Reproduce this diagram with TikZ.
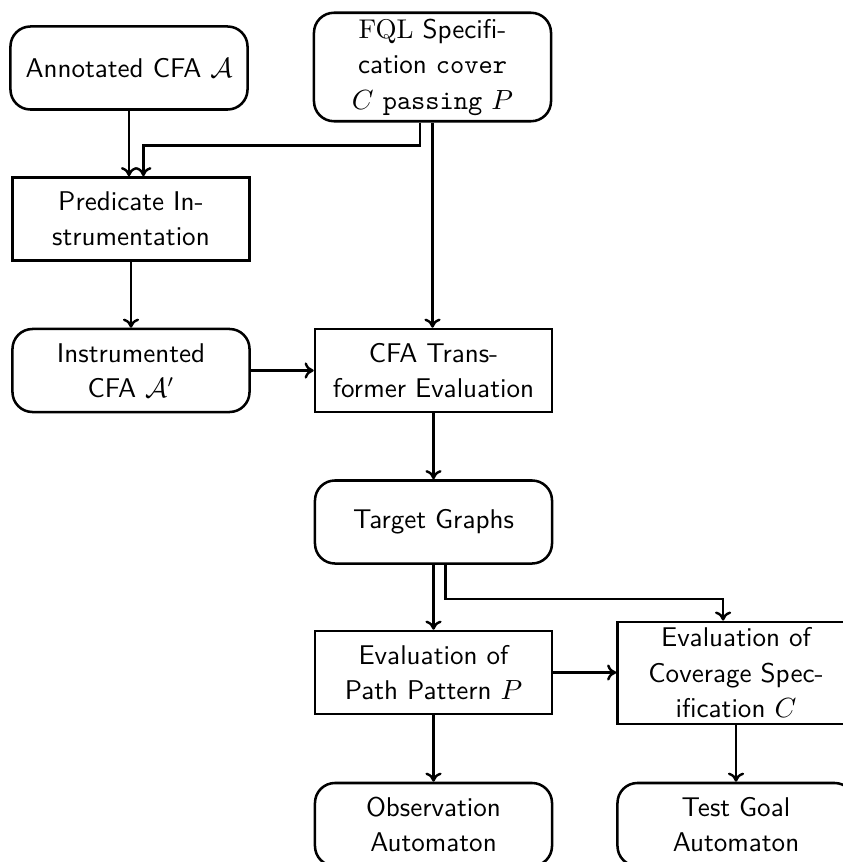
\documentclass[tikz,border=0pt]{standalone}
\usetikzlibrary{calc,arrows.meta}

\tikzset{
  box/.style={draw, line width=1pt, text width=88.9pt, align=center,
    minimum height=32.8pt, inner sep=2.37pt,
    font=\sffamily\fontsize{10.7}{14}\selectfont},
  datanode/.style={box, rounded corners=7.9pt},
  procnode/.style={box},
  flow/.style={-{To[length=3.6pt,width=6.4pt]}, line width=0.95pt},
}

\begin{document}
\begin{tikzpicture}[x=0.395pt, y=-0.395pt]
  \useasboundingbox (0,0) rectangle (843,862);

  % inputs
  \node[datanode] (ann) at (129,68) {Annotated CFA $\mathcal{A}$};
  \node[datanode] (fql) at (432.5,67) {\textrm{FQL} Specifi-\\cation \texttt{cover}\\$C$ \texttt{passing} $P$};

  % instrumentation and transformation
  \node[procnode] (pred) at (131,219) {Predicate In-\\strumentation};
  \node[datanode] (inst) at (131,370.5) {Instrumented\\CFA $\mathcal{A}'$};
  \node[procnode] (cfa) at (433.5,370.5) {CFA Trans-\\former Evaluation};
  \node[datanode] (tg) at (433.5,522) {Target Graphs};

  % evaluation and resulting automata
  \node[procnode] (evp) at (433.5,672.5) {Evaluation of\\Path Pattern $P$};
  \node[procnode] (evc) at (736,673) {Evaluation of\\Coverage Spec-\\ification $C$};
  \node[datanode] (obs) at (433.5,824.5) {Observation\\Automaton};
  \node[datanode] (tga) at (736,824.5) {Test Goal\\Automaton};

  % connectors
  \draw[flow] (ann.south) -- (ann.south |- pred.north);
  \draw[flow] ([xshift=-4.9pt]fql.south) -- ++(0,23) -| ([xshift=4.9pt]pred.north);
  \draw[flow] (fql.south) -- (fql.south |- cfa.north);
  \draw[flow] (pred) -- (inst);
  \draw[flow] (inst) -- (cfa);
  \draw[flow] (cfa) -- (tg);
  \draw[flow] (tg) -- (evp);
  \draw[flow] ([xshift=4.7pt]tg.south) -- ++(0,34) -| ([xshift=-5.1pt]evc.north);
  \draw[flow] (evp.east) -- (evp.east -| evc.west);
  \draw[flow] (evp) -- (obs);
  \draw[flow] (evc) -- (tga);
\end{tikzpicture}
\end{document}
